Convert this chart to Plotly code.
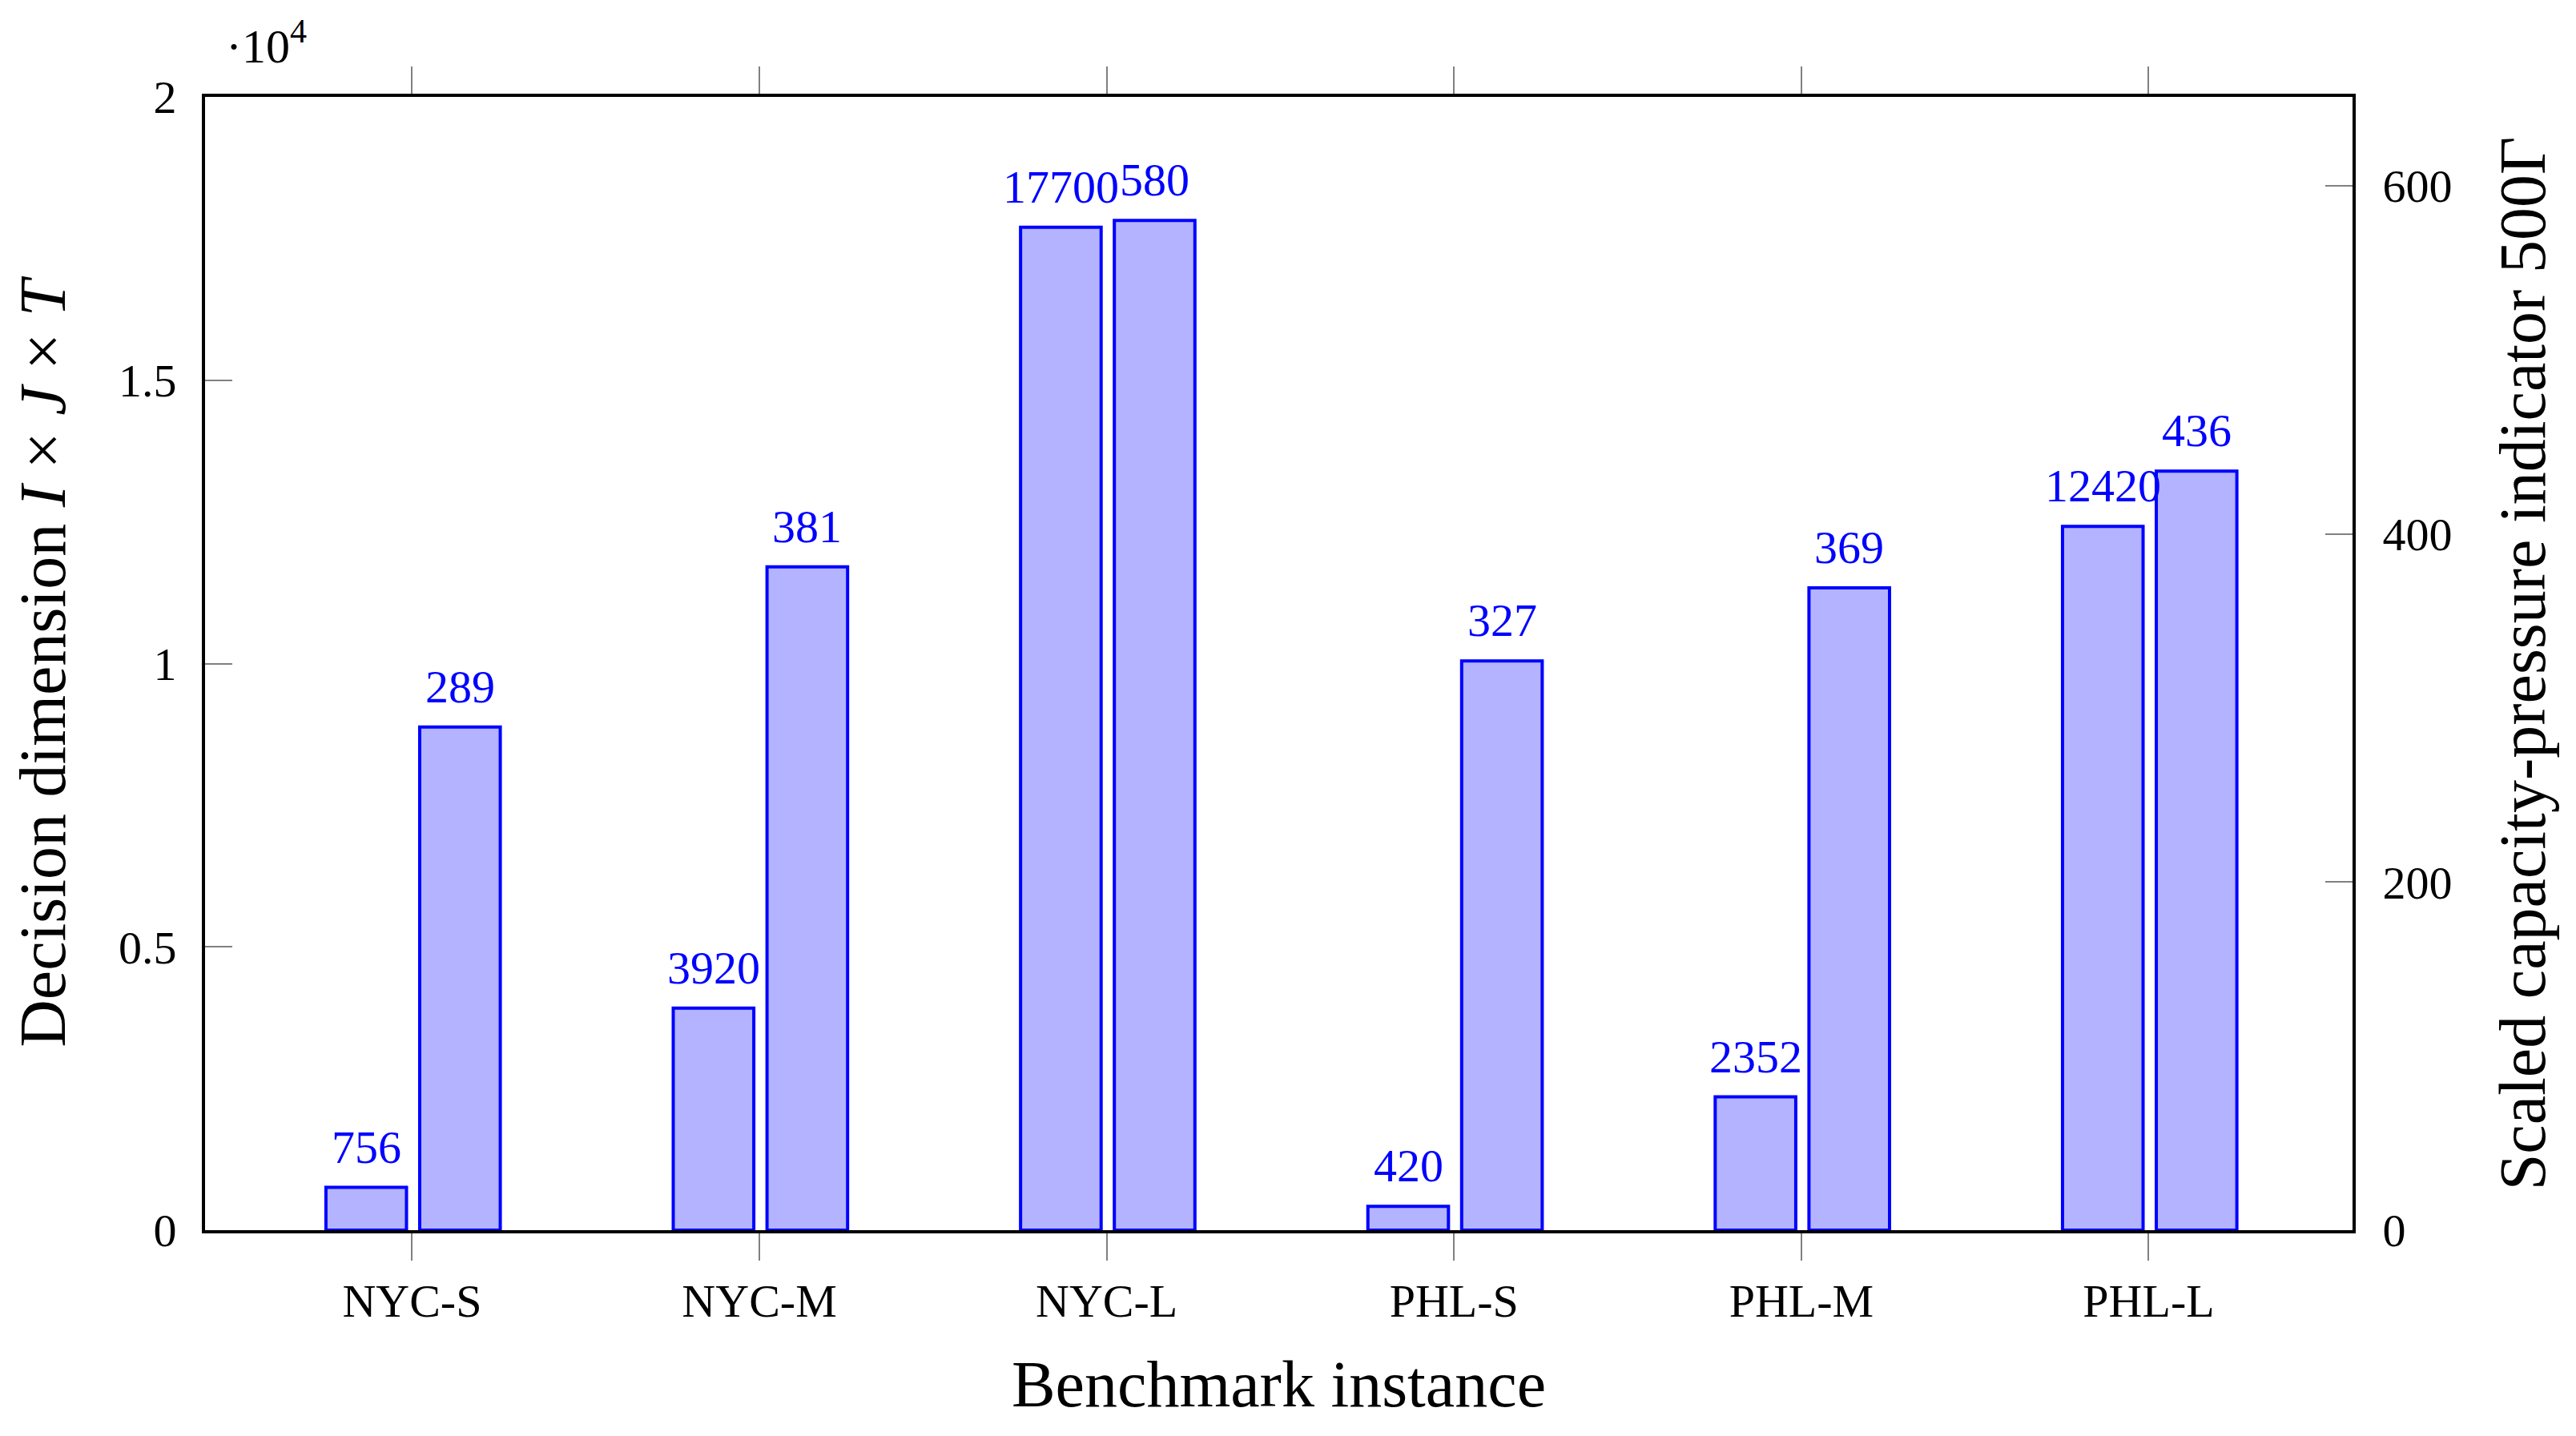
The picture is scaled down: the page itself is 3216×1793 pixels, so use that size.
import plotly.graph_objects as go

# Benchmark instances and the two bar series
instances = ["NYC-S", "NYC-M", "NYC-L", "PHL-S", "PHL-M", "PHL-L"]
decision_dim = [756, 3920, 17700, 420, 2352, 12420]   # I x J x T (left axis)
pressure = [289, 381, 580, 327, 369, 436]             # 500 Gamma (right axis)

left_ticks = [0, 5000, 10000, 15000, 20000]
left_tick_text = ["0", "0.5", "1", "1.5", "2"]
right_ticks = [0, 200, 400, 600]

FONT = "Liberation Serif"
FILL = "rgb(179,179,255)"
EDGE = "rgb(0,0,255)"
BAR_W = 0.232

xpos = list(range(len(instances)))

fig = go.Figure()

# left series (decision dimension)
fig.add_trace(go.Bar(x=xpos, y=decision_dim, width=BAR_W, offset=-0.248,
                     marker=dict(color=FILL, line=dict(color=EDGE, width=4)),
                     yaxis="y", showlegend=False))
# right series (capacity-pressure indicator)
fig.add_trace(go.Bar(x=xpos, y=pressure, width=BAR_W, offset=0.022,
                     marker=dict(color=FILL, line=dict(color=EDGE, width=4)),
                     yaxis="y2", showlegend=False))

# value labels above each bar
annotations = []
for i, v in zip(xpos, decision_dim):
    annotations.append(dict(x=i - 0.248 + BAR_W / 2, y=v, xref="x", yref="y", text=str(v),
                            showarrow=False, yanchor="bottom", yshift=16,
                            font=dict(family=FONT, size=58, color=EDGE)))
for i, v in zip(xpos, pressure):
    annotations.append(dict(x=i + 0.022 + BAR_W / 2, y=v, xref="x", yref="y2", text=str(v),
                            showarrow=False, yanchor="bottom", yshift=16,
                            font=dict(family=FONT, size=58, color=EDGE)))

# scale factor note for the left axis
annotations.append(dict(x=0.009, y=1.048, xref="paper", yref="paper", text="\u00b710<sup>4</sup>",
                        showarrow=False, xanchor="left", yanchor="middle",
                        font=dict(family=FONT, size=60, color="black")))

# page body keeps an 8px margin, so the figure is 8px smaller
fig.update_layout(
    width=3208, height=1785,
    margin=dict(l=248, r=279, t=113, b=257),
    paper_bgcolor="white", plot_bgcolor="white",
    font=dict(family=FONT, size=58, color="black"),
    barmode="overlay",
    annotations=annotations,
    xaxis=dict(range=[-0.596, 5.587], tickvals=xpos, ticktext=instances,
               showline=True, linecolor="black", linewidth=4, mirror="ticks",
               ticks="outside", ticklen=34, tickwidth=2, tickcolor="gray",
               ticklabelstandoff=0, showgrid=False, zeroline=False,
               title=dict(text="Benchmark instance", font=dict(family=FONT, size=82), standoff=44)),
    yaxis=dict(range=[0, 20000], tickvals=left_ticks, ticktext=left_tick_text,
               showline=True, linecolor="black", linewidth=4, mirror=True,
               ticks="inside", ticklen=34, tickwidth=2, tickcolor="gray",
               ticklabelstandoff=20, showgrid=False, zeroline=False,
               title=dict(text="Decision dimension <i>I</i> \u00d7 <i>J</i> \u00d7 <i>T</i>",
                          font=dict(family=FONT, size=82), standoff=48)),
    yaxis2=dict(range=[0, 651], tickvals=right_ticks, overlaying="y", side="right",
                showline=True, linecolor="black", linewidth=4,
                ticks="inside", ticklen=34, tickwidth=2, tickcolor="gray",
                ticklabelstandoff=22, showgrid=False, zeroline=False,
                title=dict(text="Scaled capacity-pressure indicator 500\u0393",
                           font=dict(family=FONT, size=82), standoff=60)),
)

fig.write_html("out.html")
